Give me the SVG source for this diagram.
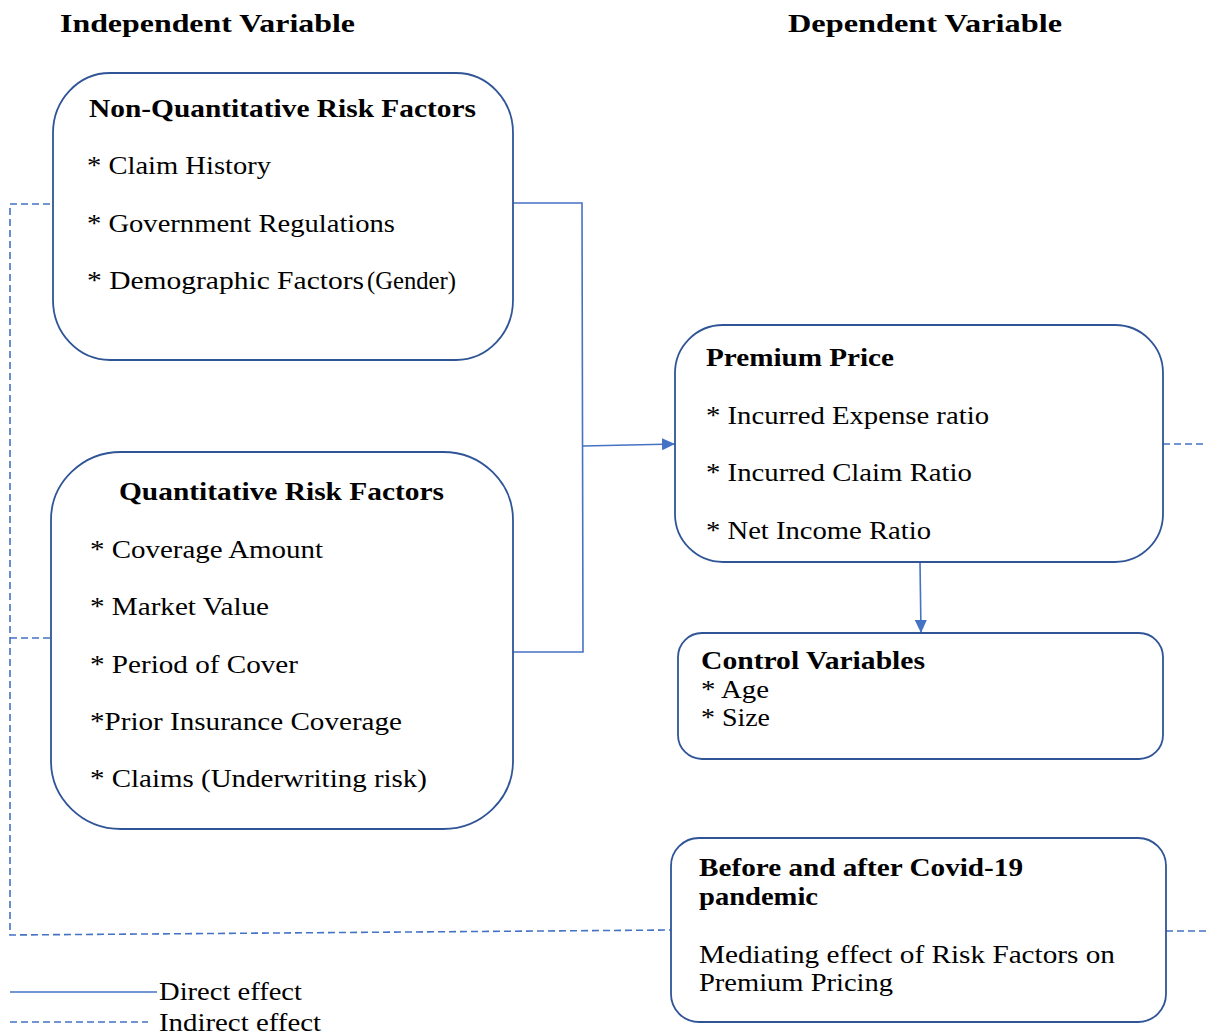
<svg xmlns="http://www.w3.org/2000/svg" width="1207" height="1036" viewBox="0 0 1207 1036">
<style>
  .box{fill:#fff;stroke:#2F5597;stroke-width:1.8}
  .t{font-family:"Liberation Serif","Times New Roman",serif;font-size:25px;fill:#000}
  .b{font-weight:bold}
  .solid{fill:none;stroke:#4472C4;stroke-width:1.6}
  .dash{fill:none;stroke:#4472C4;stroke-width:1.6;stroke-dasharray:7 4}
</style>
<defs>
  <marker id="arr" markerUnits="userSpaceOnUse" markerWidth="14" markerHeight="12" refX="13" refY="6" orient="auto">
    <path d="M0,0 L13,6 L0,12 Z" fill="#4472C4"/>
  </marker>
</defs>
<rect width="1207" height="1036" fill="#fff"/>

<g id="headers">
  <text class="t b" x="60" y="32" textLength="295" lengthAdjust="spacingAndGlyphs">Independent Variable</text>
  <text class="t b" x="788" y="32" textLength="274" lengthAdjust="spacingAndGlyphs">Dependent Variable</text>
</g>

<g id="connectors">
  <polyline class="solid" points="513,203 582,203 583,652 513,652"/>
  <line class="solid" x1="583" y1="446" x2="675" y2="444" marker-end="url(#arr)"/>
  <line class="solid" x1="920" y1="562" x2="921" y2="633" marker-end="url(#arr)"/>
  <polyline class="dash" points="50,204 10,204 10,935 671,930"/>
  <line class="dash" x1="10" y1="638" x2="51" y2="638"/>
  <line class="dash" x1="1163" y1="444" x2="1207" y2="444"/>
  <line class="dash" x1="1166" y1="931" x2="1207" y2="931"/>
</g>

<g id="node-nonquant">
  <rect class="box" x="53" y="73" width="460" height="287" rx="57" ry="60"/>
  <text class="t b" x="89" y="117" textLength="387" lengthAdjust="spacingAndGlyphs">Non-Quantitative Risk Factors</text>
  <text class="t" x="87" y="174" textLength="184" lengthAdjust="spacingAndGlyphs">* Claim History</text>
  <text class="t" x="87" y="232" textLength="308" lengthAdjust="spacingAndGlyphs">* Government Regulations</text>
  <text class="t" x="87" y="289" textLength="277" lengthAdjust="spacingAndGlyphs">* Demographic Factors</text>
  <text class="t" x="367" y="289" font-size="21" textLength="89" lengthAdjust="spacingAndGlyphs">(Gender)</text>
</g>

<g id="node-quant">
  <rect class="box" x="51" y="452" width="462" height="377" rx="70" ry="68"/>
  <text class="t b" x="119" y="500" textLength="325" lengthAdjust="spacingAndGlyphs">Quantitative Risk Factors</text>
  <text class="t" x="90" y="558" textLength="233" lengthAdjust="spacingAndGlyphs">* Coverage Amount</text>
  <text class="t" x="90" y="615" textLength="179" lengthAdjust="spacingAndGlyphs">* Market Value</text>
  <text class="t" x="90" y="673" textLength="208" lengthAdjust="spacingAndGlyphs">* Period of Cover</text>
  <text class="t" x="90" y="730" textLength="312" lengthAdjust="spacingAndGlyphs">*Prior Insurance Coverage</text>
  <text class="t" x="90" y="787" textLength="337" lengthAdjust="spacingAndGlyphs">* Claims (Underwriting risk)</text>
</g>

<g id="node-premium">
  <rect class="box" x="675" y="325" width="488" height="237" rx="48" ry="48"/>
  <text class="t b" x="706" y="366" textLength="188" lengthAdjust="spacingAndGlyphs">Premium Price</text>
  <text class="t" x="706" y="424" textLength="283" lengthAdjust="spacingAndGlyphs">* Incurred Expense ratio</text>
  <text class="t" x="706" y="481" textLength="266" lengthAdjust="spacingAndGlyphs">* Incurred Claim Ratio</text>
  <text class="t" x="706" y="539" textLength="225" lengthAdjust="spacingAndGlyphs">* Net Income Ratio</text>
</g>

<g id="node-control">
  <rect class="box" x="678" y="633" width="485" height="126" rx="24" ry="24"/>
  <text class="t b" x="701" y="669" textLength="224" lengthAdjust="spacingAndGlyphs">Control Variables</text>
  <text class="t" x="701" y="698" textLength="68" lengthAdjust="spacingAndGlyphs">* Age</text>
  <text class="t" x="701" y="726" textLength="69" lengthAdjust="spacingAndGlyphs">* Size</text>
</g>

<g id="node-covid">
  <rect class="box" x="671" y="838" width="495" height="184" rx="28" ry="28"/>
  <text class="t b" x="699" y="876" textLength="324" lengthAdjust="spacingAndGlyphs">Before and after Covid-19</text>
  <text class="t b" x="699" y="905" textLength="119" lengthAdjust="spacingAndGlyphs">pandemic</text>
  <text class="t" x="699" y="963" textLength="416" lengthAdjust="spacingAndGlyphs">Mediating effect of Risk Factors on</text>
  <text class="t" x="699" y="991" textLength="194" lengthAdjust="spacingAndGlyphs">Premium Pricing</text>
</g>

<g id="legend">
  <line class="solid" x1="10" y1="992" x2="157" y2="992"/>
  <text class="t" x="159" y="1000" textLength="143" lengthAdjust="spacingAndGlyphs">Direct effect</text>
  <line class="dash" x1="10" y1="1022" x2="148" y2="1022"/>
  <text class="t" x="159" y="1031" textLength="162" lengthAdjust="spacingAndGlyphs">Indirect effect</text>
</g>
</svg>
